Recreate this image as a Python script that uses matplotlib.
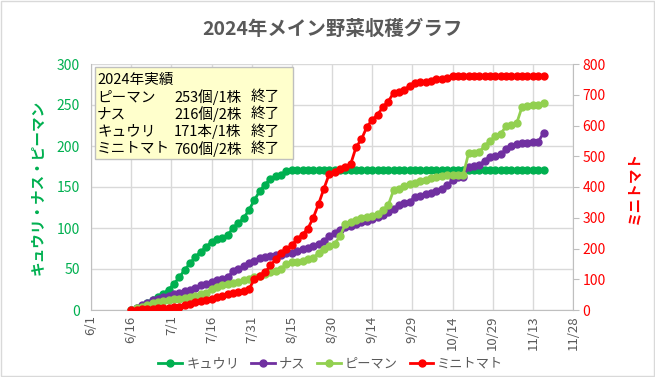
import matplotlib
matplotlib.use("Agg")
import matplotlib.pyplot as plt
import pandas as pd
from matplotlib.patches import Rectangle

plt.rcParams['font.family'] = ['Noto Sans CJK JP', 'DejaVu Sans']

# data: cumulative harvest, read every 2 days from 6/16 to 11/17
dates = pd.date_range('2024-06-16', '2024-11-17', freq='2D')

kyuri = [0, 2, 5, 9, 12, 16, 20, 25, 32, 40,
         49, 57, 65, 71, 77, 83, 86, 88, 91, 100,
         106, 112, 122, 134, 145, 153, 160, 163, 165, 169,
         171] + [171] * 47
nasu = [0, 3, 6, 9, 12, 14, 16, 17, 19, 21,
        23, 25, 27, 30, 32, 34, 36, 38, 40, 47,
        50, 54, 57, 60, 63, 65, 66, 67, 67, 69,
        70, 72, 74, 76, 78, 80, 84, 90, 94, 98,
        101, 103, 105, 107, 108, 111, 113, 116, 119, 123,
        128, 130, 132, 138, 139, 141, 143, 145, 148, 152,
        158, 162, 162, 175, 176, 177, 182, 187, 188, 190,
        196, 200, 203, 204, 204, 205, 205, 216]
piman = [0, 2, 4, 6, 8, 10, 11, 12, 13, 14,
         15, 16, 17, 19, 21, 26, 28, 30, 32, 33,
         34, 36, 38, 40, 42, 44, 46, 48, 50, 56,
         58, 59, 60, 62, 63, 70, 74, 78, 81, 90,
         105, 107, 110, 112, 114, 115, 117, 122, 128, 146,
         148, 151, 154, 155, 157, 159, 161, 162, 164, 165,
         165, 165, 165, 191, 192, 193, 200, 206, 212, 215,
         224, 226, 228, 248, 249, 250, 250, 253]
tomato = [0, 1, 2, 3, 4, 5, 6, 7, 9, 11,
          15, 20, 25, 29, 32, 37, 42, 47, 52, 55,
          58, 62, 68, 100, 112, 122, 145, 165, 186, 198,
          210, 232, 245, 265, 300, 345, 395, 443, 448, 458,
          466, 475, 530, 555, 595, 618, 635, 660, 678, 706,
          710, 715, 730, 738, 740, 743, 746, 750, 752, 754] + [760] * 18

tick_dates = pd.date_range('2024-06-01', periods=13, freq='15D')
tick_labels = [f"{d.month}/{d.day}" for d in tick_dates]

summary = [("2024年実績", "", ""),
           ("ピーマン", "253個/1株", "終了"),
           ("ナス", "216個/2株", "終了"),
           ("キュウリ", "171本/1株", "終了"),
           ("ミニトマト", "760個/2株", "終了")]

GREEN = '#00B050'
PURPLE = '#7030A0'
LGREEN = '#92D050'
RED = '#FF0000'
GRAY = '#595959'
GRID = '#D9D9D9'

fig = plt.figure(figsize=(6.55, 3.77), dpi=100)
fig.patches.append(Rectangle((0.002, 0.003), 0.996, 0.994, transform=fig.transFigure,
                             fill=False, edgecolor=GRID, lw=1))
ax = fig.add_axes([91 / 655, 1 - 310 / 377, (573 - 91) / 655, (310 - 64) / 377])
ax2 = ax.twinx()

kw = dict(marker='o', markersize=5, linewidth=2)
l1, = ax.plot(dates, kyuri, color=GREEN, label='キュウリ', **kw)
l2, = ax.plot(dates, nasu, color=PURPLE, label='ナス', **kw)
l3, = ax.plot(dates, piman, color=LGREEN, label='ピーマン', **kw)
l4, = ax2.plot(dates, tomato, color=RED, label='ミニトマト', **kw)

ax.set_xlim(tick_dates[0], tick_dates[-1])
ax.set_ylim(0, 300)
ax2.set_ylim(0, 800)
ax.set_yticks(range(0, 301, 50))
ax2.set_yticks(range(0, 801, 100))
ax.set_xticks(tick_dates)
ax.set_xticklabels(tick_labels, rotation=90, color=GRAY, fontsize=9.5)
ax.grid(True, color=GRID, lw=1)
ax.set_axisbelow(True)

ax.tick_params(axis='y', length=0, labelcolor=GREEN, labelsize=10, pad=8)
ax.tick_params(axis='x', length=0, pad=4)
ax2.tick_params(axis='y', length=4, color='#BFBFBF', labelcolor=RED, labelsize=10, pad=3)

for a in (ax, ax2):
    for s in a.spines.values():
        s.set_visible(False)
ax.spines['left'].set_visible(True)
ax.spines['left'].set_color('#BFBFBF')
ax.spines['bottom'].set_visible(True)
ax.spines['bottom'].set_color('#BFBFBF')
ax2.spines['right'].set_visible(True)
ax2.spines['right'].set_color('#BFBFBF')

ax.set_ylabel('キュウリ・ナス・ピーマン', color=GREEN, fontsize=10.5, fontweight='bold', labelpad=8)
ax2.set_ylabel('ミニトマト', color=RED, fontsize=10.5, fontweight='bold', rotation=90, labelpad=14)

fig.text(332 / 655, 1 - 29 / 377, '2024年メイン野菜収穫グラフ', ha='center', va='center',
         fontsize=14, fontweight='bold', color=GRAY)

# summary box
fig.patches.append(Rectangle((95 / 655, 1 - 159 / 377), (293 - 95) / 655, (159 - 67) / 377,
                             transform=fig.transFigure, facecolor='#FFFFCC',
                             edgecolor='#BFBFBF', lw=1, zorder=5))
for i, (name, count, state) in enumerate(summary):
    y = 1 - (80 + i * 17.2) / 377
    fig.text(97 / 655, y, name, va='center', fontsize=10.5, color='black', zorder=6)
    fig.text(174 / 655, y, count, va='center', fontsize=10.5, color='black', zorder=6)
    fig.text(251 / 655, y, state, va='center', fontsize=10.5, color='black', zorder=6)

fig.legend(handles=[l1, l2, l3, l4], loc='center', bbox_to_anchor=(331 / 655, 1 - 364 / 377),
           ncol=4, frameon=False, fontsize=9.5, labelcolor=GRAY, handlelength=1.8,
           columnspacing=0.9, handletextpad=0.3)

fig.savefig('out.png', dpi=100)
